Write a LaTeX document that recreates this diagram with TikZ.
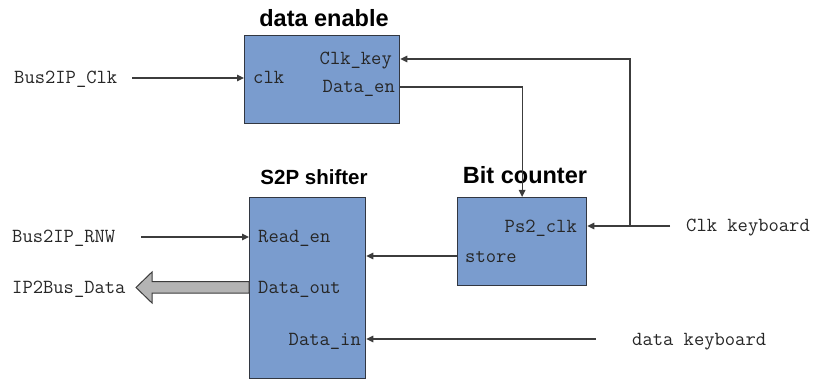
\documentclass[tikz,border=0pt]{standalone}
\usepackage{fontspec}
\newfontfamily\titlefont{Liberation Sans}
\usetikzlibrary{arrows.meta,calc}
\definecolor{boxfill}{RGB}{122,156,206}
\definecolor{boxline}{RGB}{50,55,65}
\definecolor{wirec}{RGB}{60,60,60}
\definecolor{busfill}{RGB}{180,180,180}
\begin{document}
\begin{tikzpicture}[x=1pt,y=-1pt,
  blk/.style={draw=boxline, fill=boxfill, line width=1.3pt, inner sep=0pt, anchor=north west},
  lbl/.style={font=\ttfamily\fontsize{20}{21}\selectfont, inner sep=0pt, text height=12pt, text depth=0pt, text=black!85},
  ttl/.style={font=\titlefont\bfseries\fontsize{23.5}{25}\selectfont, inner sep=0pt, anchor=base},
  wire/.style={draw=wirec, line width=1.2pt},
  arr/.style={wire, -{Triangle[length=7pt,width=6.5pt]}}]
\useasboundingbox (0,0) rectangle (814,382);
% blocks
\node[blk, minimum width=155pt, minimum height=88pt] (de) at (244,35) {};
\node[blk, minimum width=129pt, minimum height=88pt] (bc) at (457,197) {};
\node[blk, minimum width=116pt, minimum height=181pt] (s2p) at (249,197) {};
% titles
\node[ttl] (tde) at (324,27) {data enable};
\node[ttl] (tbc) at (525,184) {Bit counter};
\node[ttl, font=\titlefont\bfseries\fontsize{20.5}{22}\selectfont] (ts2p) at (314,185) {S2P shifter};
% port labels
\node[lbl, anchor=west] (clk) at (253,78) {clk};
\node[lbl, anchor=east] (clkkey) at (392,59) {Clk\_key};
\node[lbl, anchor=east] (dataen) at (395,87) {Data\_en};
\node[lbl, anchor=east] (ps2) at (577,227) {Ps2\_clk};
\node[lbl, anchor=west] (store) at (465,256) {store};
\node[lbl, anchor=west] (rden) at (258,237) {Read\_en};
\node[lbl, anchor=west] (dout) at (258,287) {Data\_out};
\node[lbl, anchor=east] (din) at (361,339) {Data\_in};
% external labels
\node[lbl, anchor=west] (bclk) at (14,78) {Bus2IP\_Clk};
\node[lbl, anchor=west] (brnw) at (12,237) {Bus2IP\_RNW};
\node[lbl, anchor=west] (ipd) at (12,287) {IP2Bus\_Data};
\node[lbl, anchor=west] (ck) at (686,226) {Clk keyboard};
\node[lbl, anchor=west] (dk) at (632,339) {data keyboard};
% connectors
\coordinate (jn) at ($(ck.west)+(-56,0)$);
\draw[arr] ($(bclk.east)+(15,0)$) -- (de.west |- bclk);
\draw[arr] ($(brnw.east)+(26,0)$) -- (s2p.west |- brnw);
\draw[arr] ($(ck.west)+(-16,0)$) -- (bc.east |- ck);
\draw[arr] (jn) |- (de.east |- clkkey);
\draw[arr] (de.east |- dataen) -| (bc.north);
\draw[arr] (bc.west |- store) -- (s2p.east |- store);
\draw[arr] ($(dk.west)+(-36,0)$) -- (s2p.east |- din);
% bus arrow
\coordinate (bo) at (s2p.west |- dout);
\draw[draw=wirec, fill=busfill, line width=1pt]
  ($(bo)+(0,-5.5)$) -- ($(bo)+(-97,-5.5)$) -- ($(bo)+(-97,-15)$) -- ($(bo)+(-113,0.5)$)
  -- ($(bo)+(-97,16)$) -- ($(bo)+(-97,6)$) -- ($(bo)+(0,6)$) -- cycle;
\end{tikzpicture}
\end{document}
